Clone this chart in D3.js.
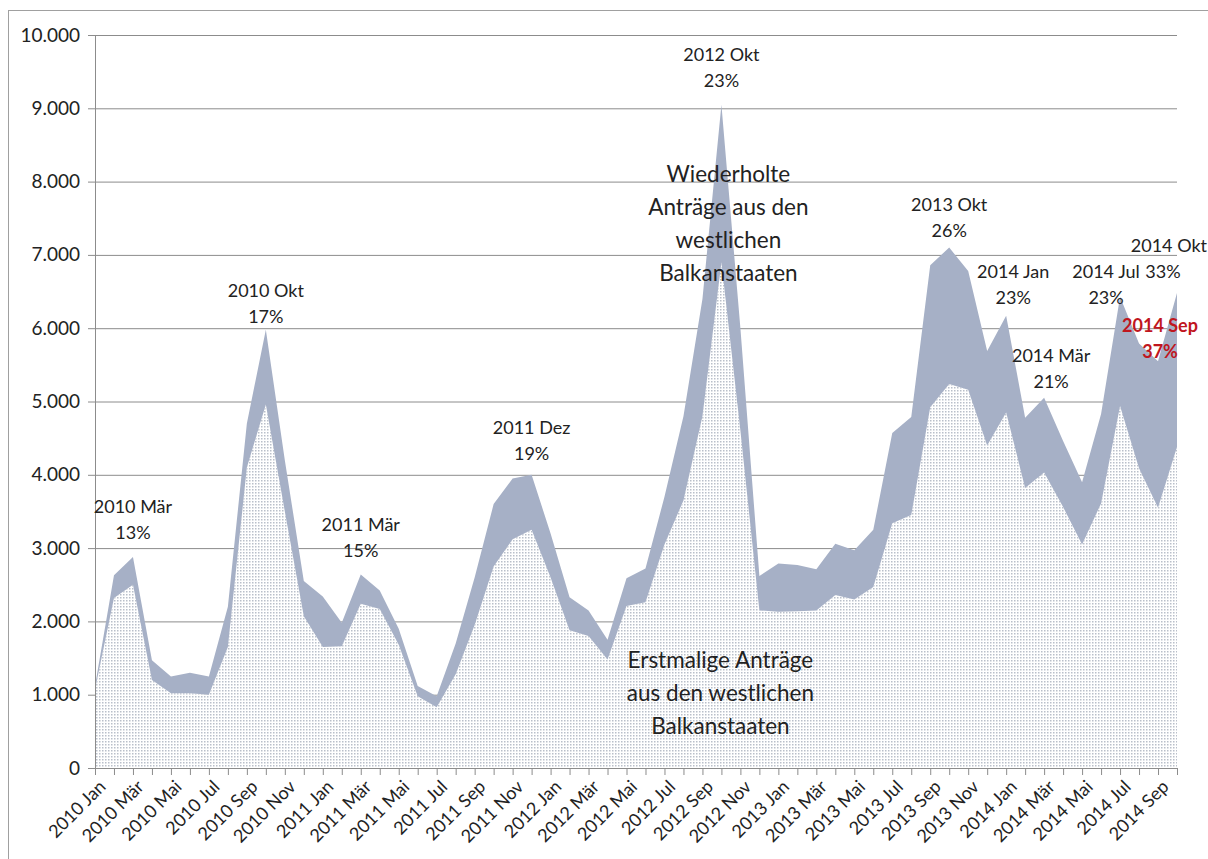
<!DOCTYPE html>
<html>
<head>
<meta charset="utf-8">
<script src="https://cdn.jsdelivr.net/npm/d3@7"></script>
<style>
html, body { margin: 0; padding: 0; background: #fff; }
svg { display: block; font-family: Lato, "Noto Sans", sans-serif; }
</style>
</head>
<body>
<div id="chart"></div>
<script>
// months on the category axis
var months = [
	'2010 Jan', '2010 Feb', '2010 Mär', '2010 Apr', '2010 Mai', '2010 Jun', '2010 Jul', '2010 Aug', '2010 Sep', '2010 Okt', '2010 Nov', '2010 Dez',
	'2011 Jan', '2011 Feb', '2011 Mär', '2011 Apr', '2011 Mai', '2011 Jun', '2011 Jul', '2011 Aug', '2011 Sep', '2011 Okt', '2011 Nov', '2011 Dez',
	'2012 Jan', '2012 Feb', '2012 Mär', '2012 Apr', '2012 Mai', '2012 Jun', '2012 Jul', '2012 Aug', '2012 Sep', '2012 Okt', '2012 Nov', '2012 Dez',
	'2013 Jan', '2013 Feb', '2013 Mär', '2013 Apr', '2013 Mai', '2013 Jun', '2013 Jul', '2013 Aug', '2013 Sep', '2013 Okt', '2013 Nov', '2013 Dez',
	'2014 Jan', '2014 Feb', '2014 Mär', '2014 Apr', '2014 Mai', '2014 Jun', '2014 Jul', '2014 Aug', '2014 Sep', '2014 Okt'
];

// Erstmalige Anträge (bottom series)
var firstTime = [
	1070, 2320, 2500, 1200, 1020, 1020, 1000, 1650, 4100, 4960, 3500, 2070,
	1650, 1660, 2240, 2170, 1680, 980, 830, 1280, 1950, 2750, 3120, 3250,
	2600, 1880, 1800, 1480, 2210, 2260, 3050, 3650, 4800, 6900, 4600, 2150,
	2130, 2140, 2150, 2360, 2300, 2470, 3340, 3450, 4920, 5240, 5160, 4400,
	4850, 3820, 4030, 3560, 3050, 3610, 4940, 4090, 3550, 4380
];

// Wiederholte Anträge (stacked on top)
var repeated = [
	50, 310, 380, 270, 230, 280, 250, 550, 600, 1020, 700, 480,
	690, 320, 400, 250, 220, 140, 150, 420, 650, 850, 830, 750,
	600, 450, 350, 270, 380, 460, 650, 1150, 1600, 2150, 1400, 470,
	660, 630, 560, 700, 670, 780, 1230, 1340, 1940, 1860, 1620, 1290,
	1320, 960, 1020, 900, 850, 1220, 1490, 1700, 2000, 2100
];

var yTicks = [0, 1000, 2000, 3000, 4000, 5000, 6000, 7000, 8000, 9000, 10000];

// labelled months and share of repeated applications
var noteMonths = ['2010 Mär', '2010 Okt', '2011 Mär', '2011 Dez', '2012 Okt', '2013 Okt', '2014 Jan', '2014 Mär', '2014 Jul', '2014 Sep', '2014 Okt'];
var noteShares = ['13%', '17%', '15%', '19%', '23%', '26%', '23%', '21%', '23%', '37%', '33%'];

var width = 1208, height = 859;
var margin = { left: 95, right: 31, top: 35, bottom: 91 };

var svg = d3.select('#chart').append('svg')
	.attr('width', width)
	.attr('height', height);

// outer chart frame (only left and top edges are in view)
svg.append('rect')
	.attr('x', 8.5).attr('y', 10.5)
	.attr('width', 1400).attr('height', 1000)
	.attr('fill', 'none').attr('stroke', '#a0a0a0');

var defs = svg.append('defs');
var pat = defs.append('pattern')
	.attr('id', 'dots')
	.attr('patternUnits', 'userSpaceOnUse')
	.attr('width', 3).attr('height', 3);
pat.append('rect').attr('width', 3).attr('height', 3).attr('fill', '#ffffff');
pat.append('rect').attr('x', 0).attr('y', 0).attr('width', 1.5).attr('height', 1.5).attr('fill', '#b9bfca');

var x = d3.scalePoint().domain(months).range([margin.left, width - margin.right]);
var y = d3.scaleLinear().domain([0, 10000]).range([height - margin.bottom, margin.top]);

var fmt = d3.formatLocale({ decimal: ',', thousands: '.', grouping: [3], currency: ['', '€'] }).format(',d');

// gridlines
svg.append('g')
	.attr('class', 'grid')
	.attr('transform', 'translate(' + margin.left + ',0)')
	.call(d3.axisLeft(y).tickValues(yTicks).tickSize(-(width - margin.right - margin.left)).tickFormat(''))
	.call(function (g) {
		g.select('.domain').remove();
		g.selectAll('line').attr('stroke', '#8c8c8c');
	});

// stacked areas
var rows = months.map(function (m, i) {
	return { month: m, first: firstTime[i], repeat: repeated[i] };
});
var series = d3.stack().keys(['first', 'repeat'])(rows);

var area = d3.area()
	.x(function (d) { return x(d.data.month); })
	.y0(function (d) { return y(d[0]); })
	.y1(function (d) { return y(d[1]); });

svg.append('g').selectAll('path')
	.data(series)
	.enter().append('path')
	.attr('d', area)
	.attr('fill', function (d) { return d.key === 'first' ? 'url(#dots)' : '#a6b0c6'; });

// y axis
svg.append('g')
	.attr('transform', 'translate(' + margin.left + ',0)')
	.call(d3.axisLeft(y).tickValues(yTicks).tickSize(7).tickPadding(8).tickFormat(fmt))
	.call(function (g) {
		g.select('.domain').attr('stroke', '#8c8c8c');
		g.selectAll('line').attr('stroke', '#8c8c8c');
		g.selectAll('text').attr('font-size', 19).attr('fill', '#222').attr('font-family', 'Lato, sans-serif');
	});

// x axis
svg.append('g')
	.attr('transform', 'translate(0,' + (height - margin.bottom) + ')')
	.call(d3.axisBottom(x).tickSize(7).tickFormat(''))
	.call(function (g) {
		g.select('.domain').attr('stroke', '#8c8c8c').attr('d', 'M' + margin.left + ',0.5H' + (width - margin.right));
		g.selectAll('line').attr('stroke', '#8c8c8c');
	});

svg.append('g').selectAll('text')
	.data(months.filter(function (m, i) { return i % 2 === 0; }))
	.enter().append('text')
	.attr('transform', function (m) { return 'translate(' + (x(m) + 3) + ',' + (height - margin.bottom + 11) + ') rotate(-45)'; })
	.attr('text-anchor', 'end')
	.attr('dy', '0.7em')
	.attr('font-size', 18)
	.attr('fill', '#222')
	.text(function (m) { return m; });

// month notes: pct line offset from the top of the stack
var noteOffset = {
	'2010 Mär': [0, -24], '2010 Okt': [0, -13], '2011 Mär': [0, -24], '2011 Dez': [0, -21],
	'2012 Okt': [0, -24], '2013 Okt': [0, -17], '2014 Jan': [7, -18], '2014 Mär': [7, -16],
	'2014 Jul': [-14, 1], '2014 Sep': [2, -9], '2014 Okt': [-14, -21]
};

var notes = svg.append('g').attr('font-size', 18).attr('text-anchor', 'middle');
noteMonths.forEach(function (m, k) {
	var i = months.indexOf(m);
	var top = firstTime[i] + repeated[i];
	var off = noteOffset[m];
	var cx = x(m) + off[0];
	var cy = y(top) + off[1];
	var red = m === '2014 Sep';
	var g = notes.append('g')
		.attr('fill', red ? '#c0161e' : '#222')
		.attr('font-weight', red ? 'bold' : null);
	var title = g.append('text')
		.attr('x', cx)
		.attr('y', cy - 26)
		.attr('dy', '0.35em')
		.text(m);
	// the last note sits against the right edge of the chart
	if (m === '2014 Okt') title.attr('text-anchor', 'end').attr('x', width - 1);
	g.append('text')
		.attr('x', cx)
		.attr('y', cy)
		.attr('dy', '0.35em')
		.text(noteShares[k]);
});

// series names written into the areas
var seriesNotes = [
	{ lines: ['Wiederholte', 'Anträge aus den', 'westlichen', 'Balkanstaaten'], month: '2012 Okt', value: 8100, dx: 7 },
	{ lines: ['Erstmalige Anträge', 'aus den westlichen', 'Balkanstaaten'], month: '2012 Okt', value: 1470, dx: -1 }
];
seriesNotes.forEach(function (s) {
	var t = svg.append('text')
		.attr('text-anchor', 'middle')
		.attr('font-size', 22.5)
		.attr('fill', '#222');
	s.lines.forEach(function (l, j) {
		t.append('tspan')
			.attr('x', x(s.month) + s.dx)
			.attr('y', y(s.value) + j * 33)
			.attr('dy', '0.35em')
			.text(l);
	});
});
</script>
</body>
</html>
